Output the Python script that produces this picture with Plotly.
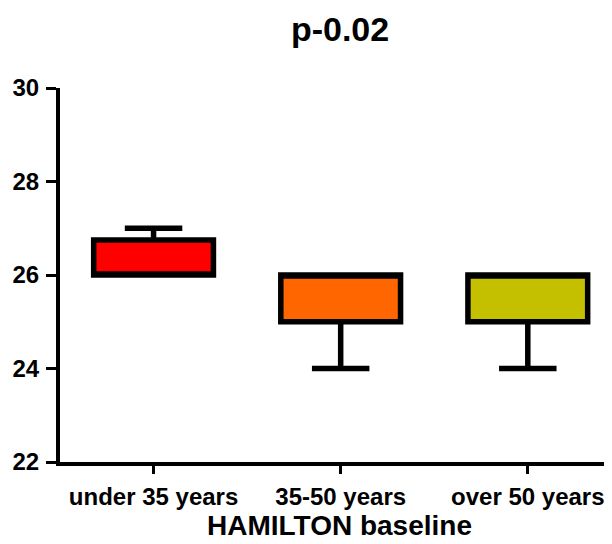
import plotly.graph_objects as go

categories = ["under 35 years", "35-50 years", "over 50 years"]
q1 = [26, 25, 25]
median = [26, 26, 26]
q3 = [26.75, 26, 26]
lower = [26, 24, 24]
upper = [27, 26, 26]
colors = ["#FF0000", "#FF6600", "#C4C000"]
x_title = "HAMILTON baseline"
chart_title = "p-0.02"

fig = go.Figure()
for i, c in enumerate(categories):
    fig.add_trace(go.Box(
        x=[c], q1=[q1[i]], median=[median[i]], q3=[q3[i]],
        lowerfence=[lower[i]], upperfence=[upper[i]],
        fillcolor=colors[i], line=dict(color="black", width=5.5),
        width=0.64, whiskerwidth=0.48, showlegend=False, hoverinfo="skip",
    ))

fig.update_layout(
    width=612, height=544,
    margin=dict(l=52, r=8, t=80, b=90),
    plot_bgcolor="white", paper_bgcolor="white",
    boxmode="overlay",
    font=dict(family="Arial, Liberation Sans, sans-serif", color="black"),
    title=dict(text=f"<b>{chart_title}</b>", x=0.5425, xanchor="center", y=0.962, yanchor="middle",
               font=dict(size=34, color="black")),
    annotations=[dict(text=f"<b>{x_title}</b>", xref="paper", yref="paper",
                      x=0.507, y=-0.171, xanchor="center", yanchor="middle",
                      showarrow=False, font=dict(size=28, color="black"))],
)
fig.update_yaxes(range=[22, 30], tickvals=[22, 24, 26, 28, 30], showgrid=False, zeroline=False,
                 automargin=False,
                 showline=True, linecolor="black", linewidth=4,
                 ticks="outside", ticklen=10, tickwidth=3, tickcolor="black",
                 ticklabelstandoff=2,
                 tickfont=dict(size=24, weight="bold", color="black"))
fig.update_xaxes(range=[-0.5, 2.45], showgrid=False, zeroline=False,
                 automargin=False,
                 showline=True, linecolor="black", linewidth=4,
                 ticks="outside", ticklen=8, tickwidth=3, tickcolor="black",
                 ticklabelstandoff=2,
                 tickfont=dict(size=24, weight="bold", color="black"))

fig.write_html("out.html")
